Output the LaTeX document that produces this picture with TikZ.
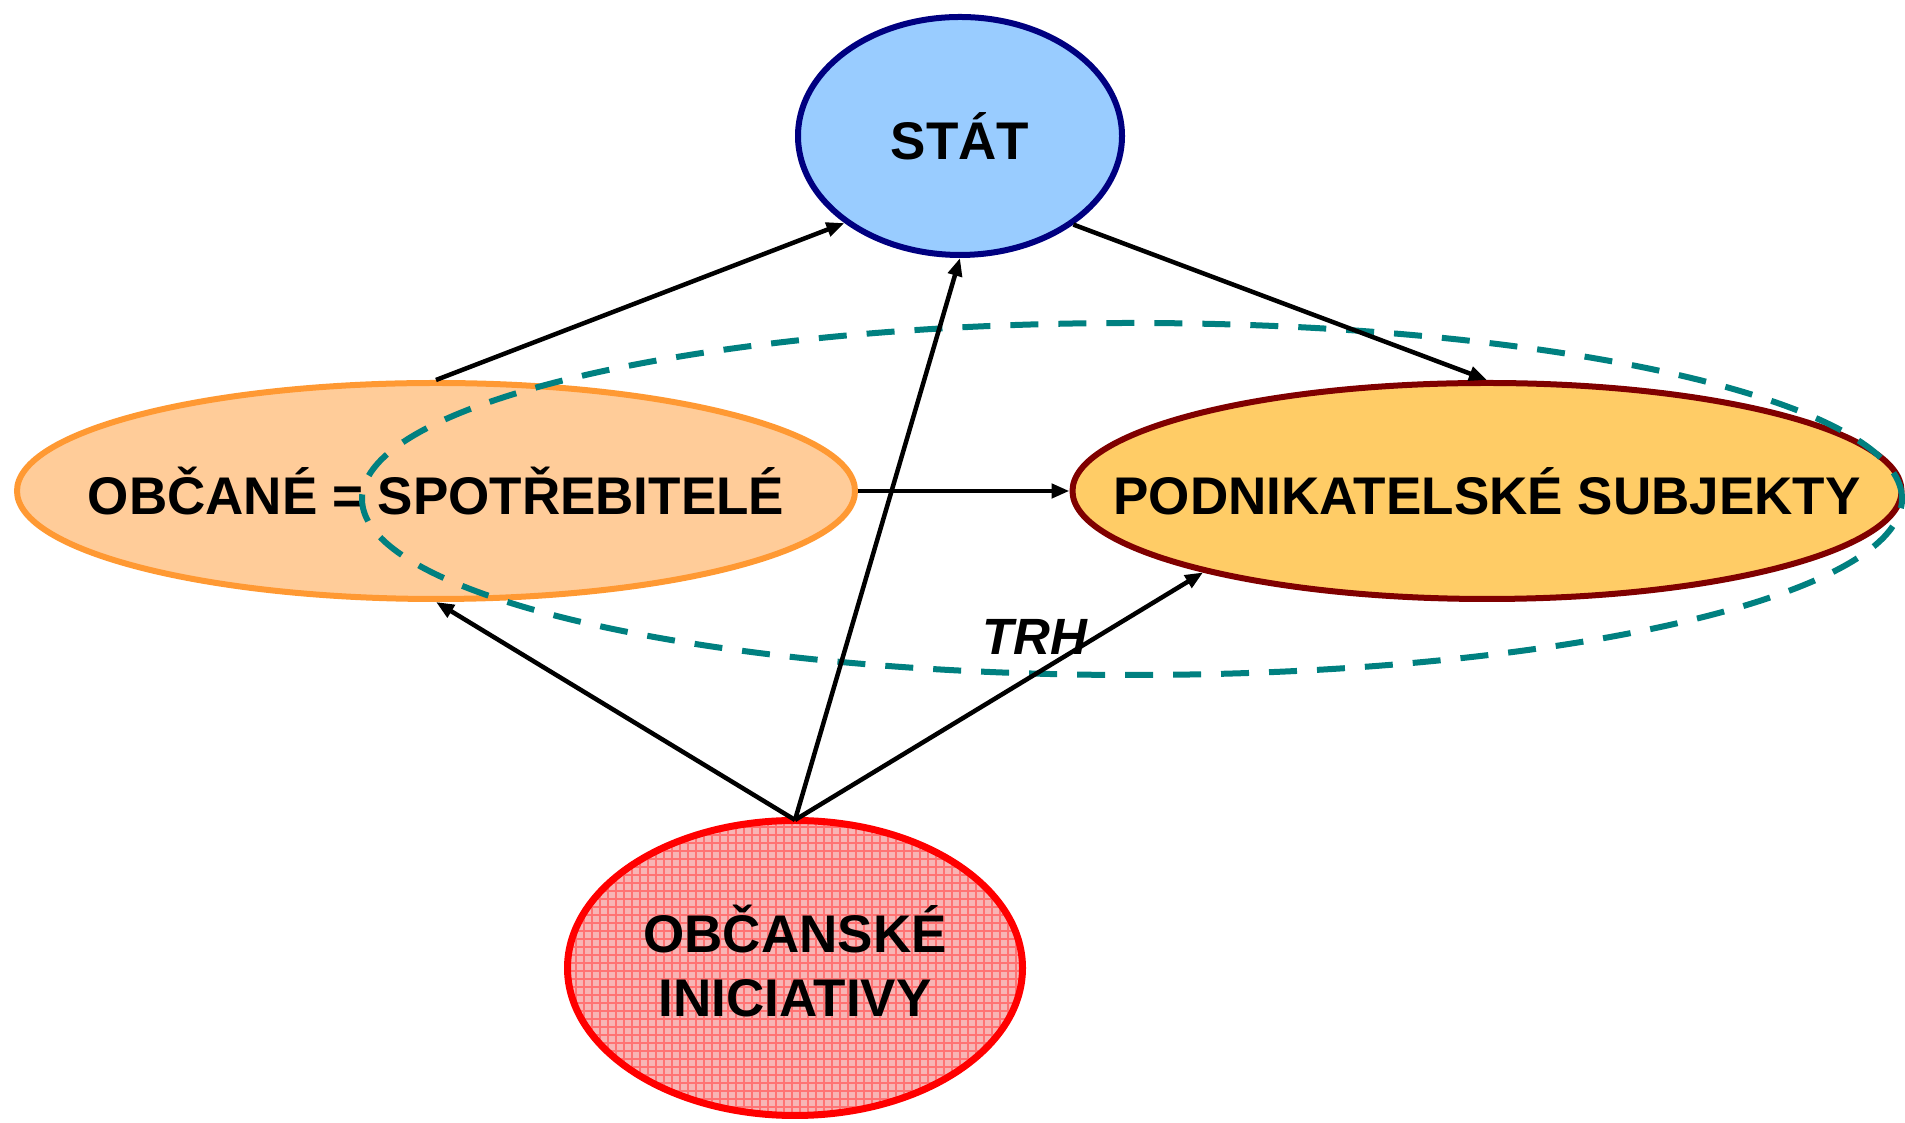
\documentclass[tikz,border=0pt]{standalone}
\usepackage{fontspec}
\setmainfont{Liberation Sans}
\usetikzlibrary{shapes.geometric,arrows.meta,patterns.meta}
\definecolor{statfill}{HTML}{99CCFF}
\definecolor{statline}{HTML}{000080}
\definecolor{obcfill}{HTML}{FFCC99}
\definecolor{obcline}{HTML}{FF9933}
\definecolor{podfill}{HTML}{FFCC66}
\definecolor{podline}{HTML}{800000}
\definecolor{inifill}{HTML}{F7B5B5}
\definecolor{iniline}{HTML}{FF0000}
\definecolor{trhline}{HTML}{008080}
\begin{document}
\begin{tikzpicture}[x=1pt,y=1pt,
  bubble/.style={ellipse, inner sep=0pt, line width=6pt},
  lbl/.style={font=\fontsize{53}{64}\selectfont\bfseries, align=center, inner sep=0pt},
  conn/.style={line width=4.5pt, -{Triangle[length=18pt,width=14pt]}}]
\useasboundingbox (0,0) rectangle (1905,1123);

\node[bubble, draw=statline, fill=statfill, minimum width=324pt, minimum height=238pt] (stat) at (960,987) {};
\node[lbl] at (stat) {STÁT};

\node[bubble, draw=obcline, fill=obcfill, minimum width=838pt, minimum height=216pt] (obc) at (436,632) {};
\node[lbl] at (obc) {OBČANÉ = SPOTŘEBITELÉ};

\node[bubble, draw=podline, fill=podfill, minimum width=829pt, minimum height=216pt] (pod) at (1487,632) {};
\node[lbl] at (pod) {PODNIKATELSKÉ SUBJEKTY};

\node[bubble, draw=iniline, line width=7pt, minimum width=455pt, minimum height=295pt,
  preaction={fill=inifill},
  pattern={Hatch[angle=0,distance=8pt,line width=1.1pt]}, pattern color=red!55] (ini) at (795,155) {};
\node[lbl] at (795,162) {OBČANSKÉ\\INICIATIVY};

\draw[trhline, line width=6pt, dash pattern=on 28pt off 20pt] (1132,624) ellipse [x radius=770, y radius=176];

\draw[conn] (obc.north) -- (stat.217);
\draw[conn] (stat.322) -- (pod.north);
\draw[conn] (obc.east) -- (pod.west);
\draw[conn] (ini.north) -- (obc.south);
\draw[conn] (ini.north) -- (stat.south);
\draw[conn] (ini.north) -- (pod.196);

\node[lbl, font=\fontsize{51}{60}\selectfont\bfseries\itshape] (trh) at (1035,486) {TRH};
\end{tikzpicture}
\end{document}
